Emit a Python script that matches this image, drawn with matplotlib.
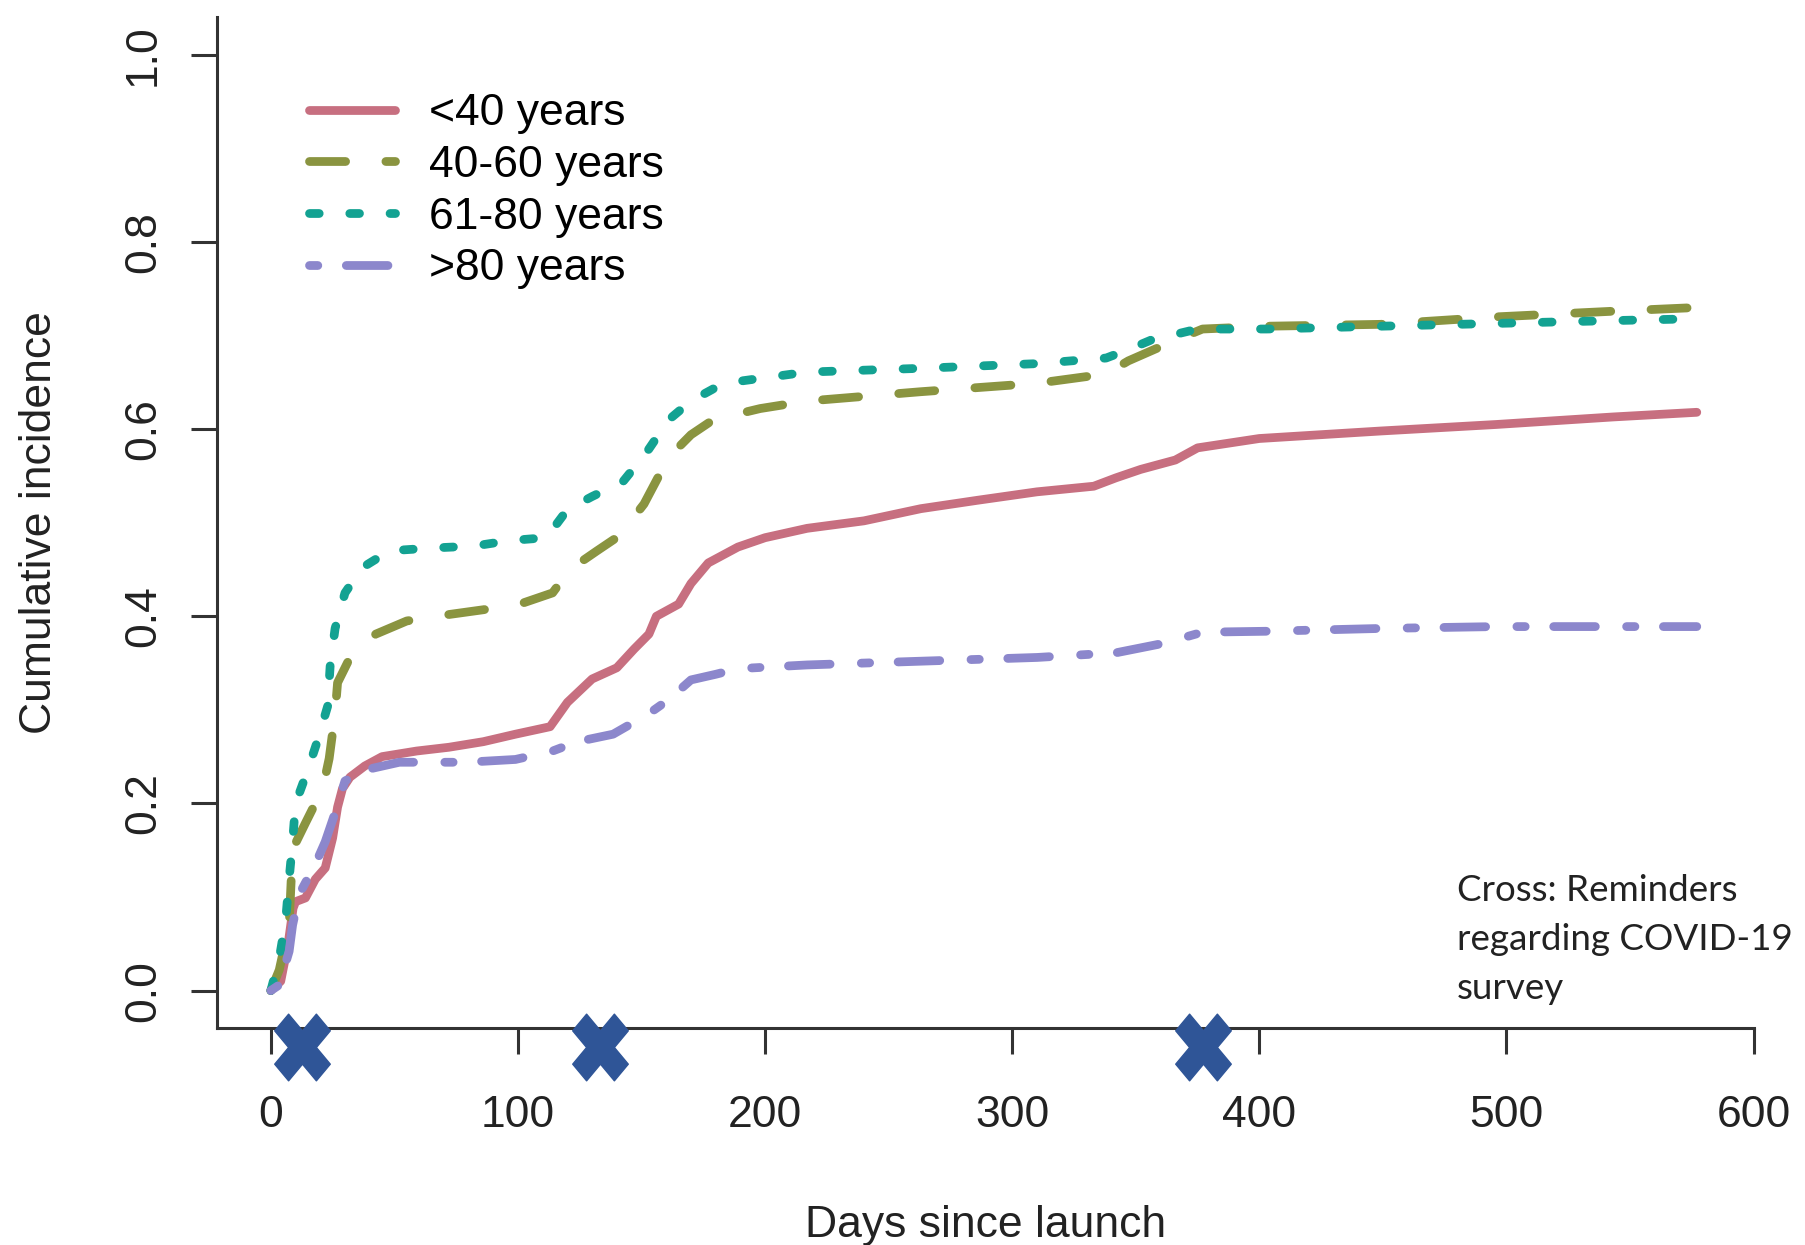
import numpy as np
import matplotlib
matplotlib.use("Agg")
import matplotlib.pyplot as plt
from matplotlib.markers import MarkerStyle
from matplotlib.path import Path

# cumulative incidence, by age group
days_u40 = [0, 4, 7, 9, 10, 14, 18, 22, 25, 27, 29, 32, 38, 45, 59, 72, 86, 99, 113, 120, 130,
            140, 147, 153, 156, 165, 170, 177, 189, 200, 217, 240, 263, 286, 310, 333, 342,
            352, 366, 375, 400, 449, 496, 543, 577]
inc_u40 = [0, 0.01, 0.05, 0.088, 0.095, 0.099, 0.119, 0.131, 0.163, 0.196, 0.216, 0.228, 0.240,
           0.25, 0.256, 0.26, 0.266, 0.274, 0.282, 0.308, 0.333, 0.345, 0.365, 0.381, 0.40,
           0.413, 0.435, 0.457, 0.474, 0.484, 0.494, 0.502, 0.515, 0.524, 0.533, 0.539, 0.548,
           0.557, 0.567, 0.58, 0.59, 0.598, 0.605, 0.613, 0.618]

days_4060 = [0, 3.4, 7.4, 8.8, 14, 21, 23.6, 26, 27, 33, 42.5, 55, 69.6, 86, 100.7, 114, 121,
             132, 141, 151, 161, 170, 179, 198, 217, 263, 310, 338, 347, 366, 377, 403, 449,
             496, 543, 577]
inc_4060 = [0, 0.022, 0.07, 0.151, 0.179, 0.216, 0.248, 0.296, 0.329, 0.361, 0.381, 0.395,
            0.401, 0.407, 0.413, 0.425, 0.45, 0.47, 0.486, 0.52, 0.57, 0.594, 0.61, 0.622,
            0.63, 0.64, 0.649, 0.659, 0.673, 0.695, 0.707, 0.71, 0.712, 0.72, 0.726, 0.73]

days_6180 = [0, 3.4, 6, 7.4, 8.8, 10, 15, 19, 23, 24, 26, 30, 37, 48, 65.5, 82, 97, 111.5, 120,
             130, 142.5, 152, 161, 170, 179, 189, 217, 263, 310, 338, 347, 356, 375, 403, 449,
             496, 543, 577]
inc_6180 = [0, 0.034, 0.075, 0.119, 0.159, 0.2, 0.236, 0.268, 0.304, 0.347, 0.387, 0.425,
            0.452, 0.47, 0.473, 0.475, 0.481, 0.484, 0.514, 0.528, 0.544, 0.575, 0.61, 0.63,
            0.643, 0.651, 0.661, 0.665, 0.67, 0.676, 0.685, 0.695, 0.707, 0.707, 0.71, 0.713,
            0.716, 0.718]

days_o80 = [0, 3.4, 7.4, 8.8, 11.5, 18, 22, 26, 30, 38.5, 52, 79, 99, 114, 124, 138.5, 153,
            161, 170, 180, 189, 217, 263, 310, 342, 361, 377, 403, 449, 496, 577]
inc_o80 = [0, 0.006, 0.042, 0.07, 0.103, 0.135, 0.159, 0.19, 0.224, 0.236, 0.244, 0.244,
           0.247, 0.256, 0.266, 0.274, 0.296, 0.311, 0.332, 0.338, 0.344, 0.348, 0.352, 0.356,
           0.361, 0.371, 0.383, 0.384, 0.387, 0.389, 0.389]

labels = ["<40 years", "40-60 years", "61-80 years", ">80 years"]
reminder_days = [12.6, 133, 377]

plt.rcParams['font.family'] = ['Liberation Sans', 'DejaVu Sans']
plt.rcParams['lines.scale_dashes'] = False
plt.rcParams['lines.dash_capstyle'] = 'round'
plt.rcParams['lines.solid_capstyle'] = 'round'

fig = plt.figure(figsize=(18.06, 12.45), dpi=100)
ax = fig.add_axes([0.120, 0.1743, 0.851, 0.8117])

lw = 6.3
ax.plot(days_u40, inc_u40, color='#C76F80', lw=lw, label=labels[0])
ax.plot(days_4060, inc_4060, color='#8A9440', lw=lw, linestyle=(0, (26, 29)), label=labels[1])
ax.plot(days_6180, inc_6180, color='#13A292', lw=lw, linestyle=(0, (7, 22)), label=labels[2])
ax.plot(days_o80, inc_o80, color='#8C87CC', lw=lw,
        linestyle=(0, (6, 20.5, 30, 22.5)), label=labels[3])

# reminder crosses sitting on the x axis
ms = MarkerStyle('X')
p = ms.get_path().transformed(ms.get_transform())
cross = Path(p.vertices * [1.0, 1.2], p.codes)
ax.plot(reminder_days, [-0.019] * len(reminder_days), transform=ax.get_xaxis_transform(),
        linestyle='none', marker=cross, markersize=48, color='#2F5597', clip_on=False, zorder=6)

ax.set_xlim(-21.9, 600)
ax.set_ylim(-0.04, 1.04)
ax.set_xticks(range(0, 601, 100))
ax.set_yticks([0, 0.2, 0.4, 0.6, 0.8, 1.0])
ax.set_yticklabels(["0.0", "0.2", "0.4", "0.6", "0.8", "1.0"], rotation=90, va='center')

for s in ['top', 'right']:
    ax.spines[s].set_visible(False)
for s in ['left', 'bottom']:
    ax.spines[s].set_linewidth(2.2)
    ax.spines[s].set_color('#333333')

fs = 32
ax.tick_params(axis='both', length=19, width=2.2, color='#333333', labelsize=fs,
               labelcolor='#222222')
ax.tick_params(axis='x', pad=29)
ax.tick_params(axis='y', pad=19)

ax.set_xlabel("Days since launch", fontsize=fs, color='#222222')
ax.set_ylabel("Cumulative incidence", fontsize=fs, color='#222222')
ax.xaxis.label.set(va='center', ha='center')
ax.yaxis.label.set(va='center', ha='center')
ax.xaxis.set_label_coords(0.5, -0.195)
ax.yaxis.set_label_coords(-0.115, 0.5)

ax.legend(loc='upper left', bbox_to_anchor=(0.171, 0.925), bbox_transform=fig.transFigure,
          frameon=False, fontsize=fs, handlelength=1.95, handletextpad=0.75,
          labelspacing=0.24, borderpad=0, borderaxespad=0)

fig.text(1457 / 1806, 1 - 874 / 1245, "Cross: Reminders\nregarding COVID-19\nsurvey",
         family=['Lato', 'DejaVu Sans'], fontsize=26.5, color='#222222', va='top', ha='left',
         linespacing=1.6)

fig.savefig("out.png", dpi=100)
